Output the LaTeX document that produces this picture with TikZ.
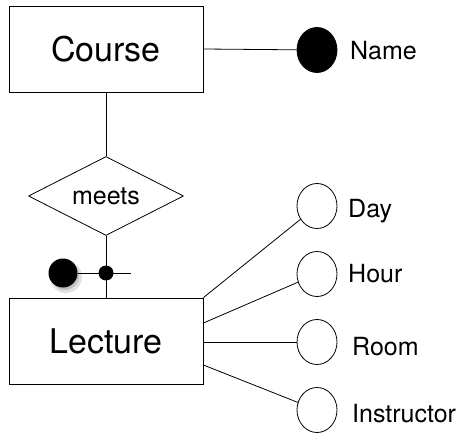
\documentclass[tikz,border=0pt]{standalone}
\usepackage{fontspec}
\setmainfont{TeX Gyre Heros}
\usetikzlibrary{shapes.geometric}

\begin{document}
\begin{tikzpicture}[x=1pt, y=-1pt,
    entity/.style={rectangle, draw, line width=0.8pt, minimum width=194pt, minimum height=86pt, font=\fontsize{34}{40}\selectfont},
    attr/.style={ellipse, draw, line width=0.8pt, minimum width=40pt, minimum height=45pt, inner sep=0pt},
    lbl/.style={anchor=base west, inner sep=0pt, font=\fontsize{25}{30}\selectfont}]
  \useasboundingbox (0,0) rectangle (458,433);
  \node[entity] (course) at (106,49) {Course};
  \node[entity] (lecture) at (106,341) {Lecture};
  \node[diamond, draw, line width=0.8pt, aspect=2, minimum width=155pt, minimum height=79pt, inner sep=0pt, font=\fontsize{25}{30}\selectfont] (meets) at (106,196) {meets};
  \node[attr, fill=black] (name) at (317,50) {};
  \node[attr] (day) at (317,206) {};
  \node[attr] (hour) at (317,274) {};
  \node[attr] (room) at (317,342) {};
  \node[attr] (instr) at (317,410) {};
  \node[lbl] (nametxt) at (350,60) {Name};
  \node[lbl] (daytxt) at (348,218) {Day};
  \node[lbl] (hourtxt) at (348,282) {Hour};
  \node[lbl] (roomtxt) at (352,355) {Room};
  \node[lbl] (instrtxt) at (352,422) {Instructor};
  % the key on the relationship line
  \fill[black!12] (66,277) circle (16pt);
  \fill[black!25] (65,276) circle (14pt);
  \node[circle, fill=black, minimum size=29pt, inner sep=0pt] (bigdot) at (63,273) {};
  \node[circle, fill=black, minimum size=15pt, inner sep=0pt] (keydot) at (106,273) {};
  \coordinate (tickend) at (131,273);
  \draw[line width=0.8pt] (course.east) -- (name);
  \draw[line width=0.8pt] (course) -- (meets);
  \draw[line width=0.8pt] (meets) -- (lecture);
  \draw[line width=0.8pt] (bigdot) -- (tickend);
  \draw[line width=0.8pt] (lecture.north east) -- (day);
  \draw[line width=0.8pt] ([yshift=18pt]lecture.east) -- (hour);
  \draw[line width=0.8pt] ([yshift=-1pt]lecture.east) -- (room);
  \draw[line width=0.8pt] ([yshift=-24pt]lecture.east) -- (instr);
\end{tikzpicture}
\end{document}
